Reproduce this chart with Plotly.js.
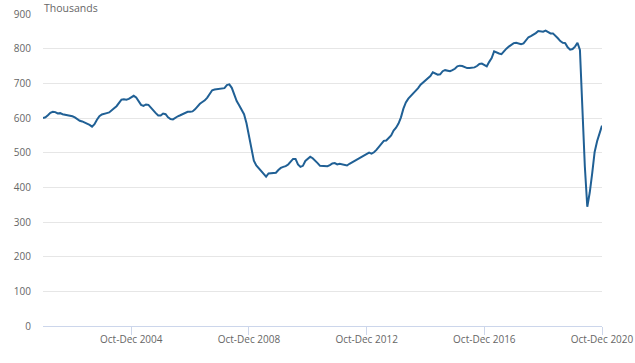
<!DOCTYPE html>
<html>
<head>
<meta charset="utf-8">
<script src="https://cdn.plot.ly/plotly-3.0.1.min.js"></script>
<style>
  html, body { margin: 0; padding: 0; background: #ffffff; }
  #chart { width: 635px; height: 363px; }
</style>
</head>
<body>
<div id="chart"></div>
<script>
// Rolling three-month periods, Oct-Dec 2001 to Oct-Dec 2020
const monthNames = ["Jan","Feb","Mar","Apr","May","Jun","Jul","Aug","Sep","Oct","Nov","Dec"];
const startYear = 2001;
const startMonth = 9; // October (0-based)
const periodCount = 229;

const periods = [];
for (let i = 0; i < periodCount; i++) {
  const m0 = startMonth + i;
  const m2 = m0 + 2;
  const first = monthNames[m0 % 12];
  const last = monthNames[m2 % 12];
  const endYear = startYear + Math.floor(m2 / 12);
  periods.push(first + "-" + last + " " + endYear);
}

// Vacancies, thousands
const vacancies = [
  600, 602, 608, 615, 618, 617, 613, 614, 611, 610,
  608, 606, 605, 602, 597, 592, 590, 587, 585, 580,
  575, 582, 595, 605, 610, 613, 614, 616, 621, 628,
  634, 644, 653, 654, 653, 655, 660, 664, 659, 647,
  638, 635, 639, 638, 629, 622, 614, 607, 607, 613,
  611, 602, 597, 596, 601, 605, 608, 611, 615, 618,
  618, 619, 625, 634, 641, 646, 651, 659, 670, 680,
  682, 683, 684, 684, 686, 695, 697, 687, 665, 649,
  637, 624, 611, 585, 547, 505, 477, 463, 455, 447,
  437, 431, 440, 440, 441, 442, 450, 456, 459, 461,
  466, 475, 482, 482, 466, 459, 462, 476, 483, 488,
  484, 478, 470, 462, 461, 460, 461, 464, 469, 470,
  466, 468, 467, 465, 463, 468, 472, 476, 481, 485,
  489, 494, 498, 500, 497, 501, 508, 517, 528, 534,
  535, 542, 550, 564, 572, 584, 602, 627, 645, 656,
  663, 670, 679, 686, 696, 702, 707, 714, 721, 732,
  728, 725, 726, 735, 738, 737, 735, 738, 742, 749,
  751, 750, 746, 744, 744, 744, 746, 750, 756, 757,
  754, 749, 762, 773, 792, 788, 786, 784, 793, 800,
  806, 811, 816, 817, 815, 813, 815, 825, 833, 836,
  840, 845, 851, 850, 849, 852, 847, 844, 844, 838,
  830, 822, 817, 816, 804, 797, 799, 806, 817, 796,
  613, 460, 344, 385, 440, 502, 533, 553, 578
];

const xTickLabels = ["Oct-Dec 2004", "Oct-Dec 2008", "Oct-Dec 2012", "Oct-Dec 2016", "Oct-Dec 2020"];
const yTickValues = [0, 100, 200, 300, 400, 500, 600, 700, 800, 900];
const yUnitLabel = "Thousands";

const trace = {
  type: "scatter",
  mode: "lines",
  x: periods,
  y: vacancies,
  line: { color: "#206095", width: 2 },
  hoverinfo: "x+y"
};

const layout = {
  width: 635,
  height: 363,
  margin: { l: 43, r: 33, t: 14, b: 37, pad: 0 },
  paper_bgcolor: "#ffffff",
  plot_bgcolor: "#ffffff",
  font: { family: "Open Sans, Liberation Sans, sans-serif", color: "#666666", size: 10 },
  showlegend: false,
  xaxis: {
    type: "category",
    range: [0, periodCount - 1],
    tickmode: "array",
    tickvals: xTickLabels,
    ticktext: xTickLabels,
    ticks: "outside",
    ticklen: 8,
    tickwidth: 1,
    tickcolor: "#ccd6eb",
    showline: true,
    linecolor: "#ccd6eb",
    linewidth: 1,
    showgrid: false,
    zeroline: false,
    tickfont: { size: 10, color: "#666666" },
    ticklabelstandoff: -4,
    fixedrange: true
  },
  yaxis: {
    range: [0, 900],
    tickmode: "array",
    tickvals: yTickValues,
    ticks: "",
    showline: false,
    showgrid: true,
    gridcolor: "#e6e6e6",
    gridwidth: 1,
    zeroline: false,
    tickfont: { size: 10, color: "#666666" },
    ticklabelstandoff: 11,
    fixedrange: true
  },
  annotations: [{
    text: yUnitLabel,
    xref: "paper", yref: "paper",
    x: 0, y: 1,
    xanchor: "left", yanchor: "bottom",
    xshift: -1,
    yshift: -3,
    showarrow: false,
    font: { size: 10.5, color: "#666666" }
  }]
};

Plotly.newPlot("chart", [trace], layout, { displayModeBar: false, staticPlot: true });
</script>
</body>
</html>
